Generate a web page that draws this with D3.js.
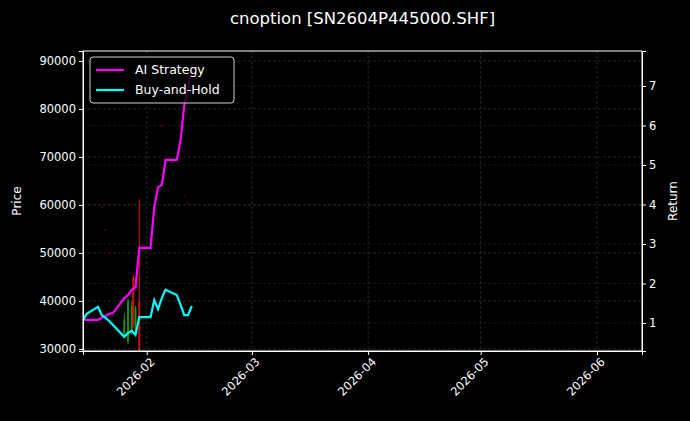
<!DOCTYPE html>
<html><head><meta charset="utf-8">
<script src="https://cdn.jsdelivr.net/npm/d3@7"></script>
<style>
body{margin:0;background:#000;}
text{font-family:"DejaVu Sans",sans-serif;fill:#fff;}
</style></head>
<body><div id="chart"></div>
<script>
const dates=["2026-01-15","2026-01-16","2026-01-19","2026-01-20","2026-01-21","2026-01-22","2026-01-23","2026-01-26","2026-01-27","2026-01-28","2026-01-29","2026-01-30","2026-02-02","2026-02-03","2026-02-04","2026-02-05","2026-02-06","2026-02-09","2026-02-10","2026-02-11","2026-02-12","2026-02-13"];
const aiStrategy=[1.08,1.08,1.08,1.13,1.18,1.23,1.25,1.63,1.71,1.84,1.91,2.90,2.90,3.94,4.44,4.49,5.13,5.13,5.63,6.52,6.90,7.53];
const buyHold=[1.08,1.23,1.41,1.20,1.13,1.05,0.95,0.65,0.75,0.80,0.70,1.15,1.15,1.58,1.35,1.63,1.84,1.71,1.46,1.20,1.20,1.43];
// candles: date, open, close, high, low
const candleDates=["2026-01-26","2026-01-27","2026-01-28","2026-01-28","2026-01-29","2026-01-30"];
const candleOpen=[33000,31500,34000,45000,34000,40000];
const candleClose=[36000,40000,39000,35000,38500,29000];
const candleHigh=[37500,40500,40000,45500,39000,61200];
const candleLow=[32500,31000,33000,34400,32500,28000];
const dotDates=["2026-01-20","2026-01-21","2026-01-22","2026-02-05","2026-02-11","2026-02-12"];
const dotPrices=[59600,54800,50000,76500,61900,60500];
const priceTicks=[30000,40000,50000,60000,70000,80000,90000];
const returnTicks=[1,2,3,4,5,6,7];
const monthTicks=["2026-02-01","2026-03-01","2026-04-01","2026-05-01","2026-06-01"];

const W=690,H=421,m={top:51,right:48,bottom:70,left:83};
const w=W-m.left-m.right,h=H-m.top-m.bottom;
const parse=d3.timeParse("%Y-%m-%d");
const svg=d3.select("#chart").append("svg").attr("width",W).attr("height",H)
  .style("background","#000");
const g=svg.append("g").attr("transform",`translate(${m.left},${m.top})`);

const x=d3.scaleTime().domain([parse("2026-01-15"),parse("2026-06-13")]).range([0,w]);
const y=d3.scaleLinear().domain([29580,92080]).range([h,0]);
const y2=d3.scaleLinear().domain([0.291,7.886]).range([h,0]);

// grid
const grid=g.append("g").attr("stroke","#4a4a4a").attr("stroke-dasharray","3,2").attr("stroke-width",0.5);
monthTicks.forEach(d=>grid.append("line").attr("x1",x(parse(d))).attr("x2",x(parse(d))).attr("y1",0).attr("y2",h));
priceTicks.forEach(v=>grid.append("line").attr("x1",0).attr("x2",w).attr("y1",y(v)).attr("y2",y(v)));
returnTicks.forEach(v=>grid.append("line").attr("x1",0).attr("x2",w).attr("y1",y2(v)).attr("y2",y2(v)).attr("stroke","#2e2e2e"));

const clip=g.append("clipPath").attr("id","c").append("rect").attr("width",w).attr("height",h);
const plot=g.append("g").attr("clip-path","url(#c)");

// dots
plot.selectAll(".dot").data(dotDates).enter().append("circle")
  .attr("cx",(d)=>x(parse(d))).attr("cy",(d,i)=>y(dotPrices[i])).attr("r",1).attr("fill","#5a0000");

// candles
candleDates.forEach((d,i)=>{
  const up=candleClose[i]>=candleOpen[i];
  const col=up?"#1a9a1a":"#e01010";
  const cx=x(parse(d))+(i==3?1.5:0);
  plot.append("line").attr("x1",cx).attr("x2",cx).attr("y1",y(candleHigh[i])).attr("y2",y(candleLow[i]))
    .attr("stroke",col).attr("stroke-width",1);
  plot.append("rect").attr("x",cx-1).attr("width",2)
    .attr("y",y(Math.max(candleOpen[i],candleClose[i])))
    .attr("height",Math.abs(y(candleOpen[i])-y(candleClose[i])))
    .attr("fill",col).attr("opacity",0.8);
});

const line=d3.line().x((d,i)=>x(parse(dates[i]))).y(d=>y2(d));
plot.append("path").datum(aiStrategy).attr("d",line).attr("fill","none").attr("stroke","#ff00ff").attr("stroke-width",2.2);
plot.append("path").datum(buyHold).attr("d",line).attr("fill","none").attr("stroke","#00ffff").attr("stroke-width",2.2);

// axes
const styleAxis=a=>{a.selectAll("path,line").attr("stroke","#fff");a.selectAll("text").attr("fill","#fff").style("font-size","11.5px");};
g.append("g").call(d3.axisLeft(y).tickValues(priceTicks).tickFormat(d3.format("d")).tickSizeOuter(0).tickSize(4)).call(styleAxis);
g.append("g").attr("transform",`translate(${w},0)`).call(d3.axisRight(y2).tickValues(returnTicks).tickSizeOuter(0).tickSize(4)).call(styleAxis);
const xa=g.append("g").attr("transform",`translate(0,${h})`)
  .call(d3.axisBottom(x).tickValues(monthTicks.map(parse)).tickFormat(d3.timeFormat("%Y-%m")).tickSizeOuter(0).tickSize(4)).call(styleAxis);
xa.selectAll("text").attr("text-anchor","end").attr("dx","-0.2em").attr("dy","0.6em").attr("transform","rotate(-45)");
g.append("rect").attr("width",w).attr("height",h).attr("fill","none").attr("stroke","#fff").attr("stroke-width",1);

// titles
svg.append("text").attr("x",m.left+w/2).attr("y",24).attr("text-anchor","middle").style("font-size","16.5px").text("cnoption [SN2604P445000.SHF]");
svg.append("text").attr("transform",`translate(21,${m.top+h/2}) rotate(-90)`).attr("text-anchor","middle").style("font-size","12px").text("Price");
svg.append("text").attr("transform",`translate(677,${m.top+h/2}) rotate(-90)`).attr("text-anchor","middle").style("font-size","12px").text("Return");

// legend
const lg=g.append("g").attr("transform","translate(7,6)");
lg.append("rect").attr("width",144).attr("height",46).attr("rx",3).attr("fill","#000").attr("fill-opacity",0.8).attr("stroke","#ccc");
[["AI Strategy","#ff00ff"],["Buy-and-Hold","#00ffff"]].forEach((s,i)=>{
  lg.append("line").attr("x1",6).attr("x2",34).attr("y1",13+i*20).attr("y2",13+i*20).attr("stroke",s[1]).attr("stroke-width",2.2);
  lg.append("text").attr("x",45).attr("y",17+i*20).style("font-size","12.5px").text(s[0]);
});
</script></body></html>
